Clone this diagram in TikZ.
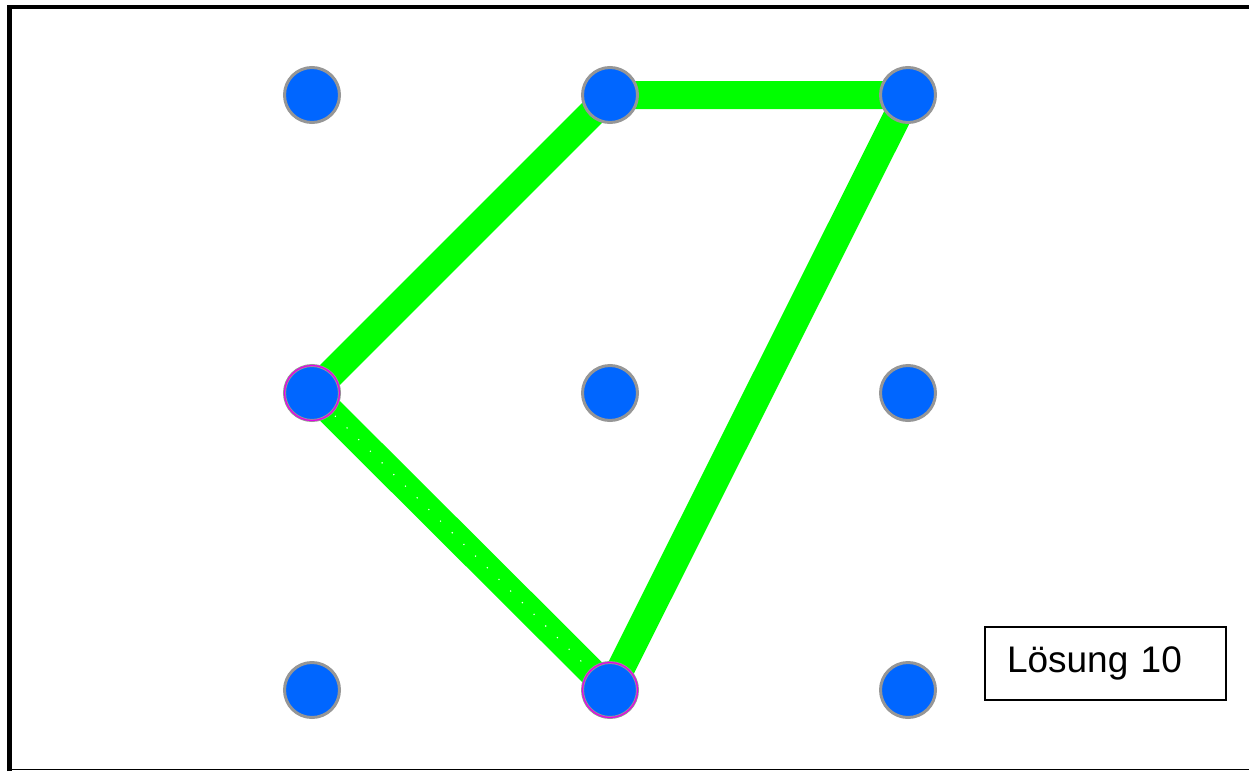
\documentclass[tikz,border=0pt]{standalone}
\usepackage{fontspec}
\setmainfont{Liberation Sans}
\usetikzlibrary{backgrounds}
\definecolor{dotblue}{RGB}{0,102,255}
\definecolor{ringgray}{RGB}{150,150,150}
\definecolor{linegreen}{RGB}{0,255,0}
\definecolor{ringmag}{RGB}{230,0,230}
\tikzset{
  dot/.style={circle, fill=dotblue, draw=ringgray, line width=3pt, minimum size=55pt, inner sep=0pt},
  marked/.style={dot, postaction={draw=ringmag, line width=1.2pt}},
  greenline/.style={draw=linegreen, line width=28pt, line join=round},
  dotline/.style={draw=white, line width=1.6pt, line cap=round, dash pattern=on 0pt off 16.5pt},
  labelbox/.style={draw=black, line width=2.5pt, minimum height=73pt, inner xsep=22pt, text width=197pt, align=left, font=\fontsize{37}{40}\selectfont}
}
\begin{document}
\begin{tikzpicture}[x=1pt,y=-1pt]
\useasboundingbox (0,0) rectangle (1249,771);
% frame
\draw[line width=5pt] (9.5,771) -- (9.5,6.5);
\draw[line width=4pt] (7,6.5) -- (1249,6.5);
\draw[line width=1.5pt] (7,769.5) -- (1249,769.5);
% dots
\node[dot] (p11) at (312,95) {};
\node[dot] (p12) at (610,95) {};
\node[dot] (p13) at (908,95) {};
\node[marked] (p21) at (312,393) {};
\node[dot] (p22) at (610,393) {};
\node[dot] (p23) at (908,393) {};
\node[dot] (p31) at (312,690) {};
\node[marked] (p32) at (610,690) {};
\node[dot] (p33) at (908,690) {};
% connectors
\begin{scope}[on background layer]
\draw[greenline] (p21.center) -- (p12.center) -- (p13.center) -- (p32.center) -- (p21.center);
\draw[dotline] (p21.center) -- (p32.center);
\end{scope}
% label
\node[labelbox] (lbl) at (1105.5,663.5) {Lösung 10};
\end{tikzpicture}
\end{document}
